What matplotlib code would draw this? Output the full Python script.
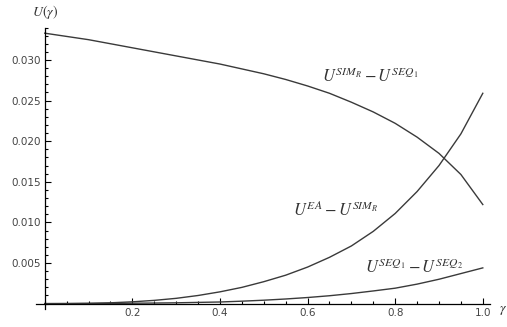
import numpy as np
import matplotlib.pyplot as plt
from matplotlib.ticker import FixedLocator, MultipleLocator

# values
gamma = [0.0, 0.05, 0.1, 0.15, 0.2, 0.25, 0.3, 0.35, 0.4, 0.45, 0.5,
         0.55, 0.6, 0.65, 0.7, 0.75, 0.8, 0.85, 0.9, 0.95, 1.0]
sim_minus_seq1 = [0.0333, 0.0329, 0.0325, 0.0320, 0.0315, 0.0310, 0.0305,
                  0.0300, 0.0295, 0.0289, 0.0283, 0.0276, 0.0268, 0.0259,
                  0.0248, 0.0236, 0.0222, 0.0205, 0.0185, 0.0159, 0.0122]
ea_minus_sim = [0.0, 0.00001, 0.00004, 0.0001, 0.00022, 0.0004, 0.00065,
                0.0010, 0.00145, 0.0020, 0.0027, 0.0035, 0.0045, 0.0057,
                0.0071, 0.0089, 0.0111, 0.0138, 0.0170, 0.0209, 0.0259]
seq1_minus_seq2 = [0.0, 0.0, 0.00001, 0.00003, 0.00005, 0.00007, 0.0001,
                   0.00015, 0.0002, 0.0003, 0.00042, 0.00057, 0.00075, 0.00097,
                   0.00124, 0.00156, 0.0019, 0.0024, 0.0030, 0.0037, 0.0044]

x_ticks = [0.2, 0.4, 0.6, 0.8, 1.0]
x_tick_labels = ["0.2", "0.4", "0.6", "0.8", "1.0"]
y_ticks = [0.005, 0.010, 0.015, 0.020, 0.025, 0.030]
y_tick_labels = ["0.005", "0.010", "0.015", "0.020", "0.025", "0.030"]

plt.rcParams["mathtext.fontset"] = "stix"

fig = plt.figure(figsize=(5.07, 3.27), dpi=100)
x0, x1 = -0.02, 1.016
y0, y1 = -0.0007, 0.034
ax = fig.add_axes([36 / 507, (327 - 309.3) / 327, 453.8 / 507, 281.8 / 327])
ax.set_xlim(x0, x1)
ax.set_ylim(y0, y1)

line_col = "#3a3a3a"
ax.plot(gamma, sim_minus_seq1, color=line_col, lw=1.0)
ax.plot(gamma, ea_minus_sim, color=line_col, lw=1.0)
ax.plot(gamma, seq1_minus_seq2, color=line_col, lw=1.0)

# Mathematica-like axes through the origin
for side in ["top", "right"]:
    ax.spines[side].set_visible(False)
ax.spines["left"].set_position(("data", 0))
ax.spines["bottom"].set_position(("data", 0))
ax.spines["left"].set_linewidth(0.9)
ax.spines["bottom"].set_linewidth(0.9)

ax.xaxis.set_major_locator(FixedLocator(x_ticks))
ax.set_xticklabels(x_tick_labels)
ax.xaxis.set_minor_locator(MultipleLocator(0.05))
ax.yaxis.set_major_locator(FixedLocator(y_ticks))
ax.set_yticklabels(y_tick_labels)
ax.yaxis.set_minor_locator(MultipleLocator(0.001))

ax.tick_params(which="both", direction="in", colors="black", width=0.8,
               labelcolor="#444444", labelsize=7.5)
ax.tick_params(which="major", length=4.5, pad=3)
ax.tick_params(which="minor", length=2.5)

# curve labels
lab_kw = dict(fontsize=12, color="#333333", ha="center", va="center")
ax.text(0.742, 0.0280, r"$U^{SIM_R} - U^{SEQ_1}$", **lab_kw)
ax.text(0.664, 0.0115, r"$U^{EA} - U^{SIM_R}$", **lab_kw)
ax.text(0.842, 0.0044, r"$U^{SEQ_1} - U^{SEQ_2}$", **lab_kw)

# axis names
ax.text(0.0, 0.0359, r"$U(\gamma)$", fontsize=10, color="#333333",
        ha="center", va="center", clip_on=False)
ax.text(1.046, -0.0008, r"$\gamma$", fontsize=10, color="#333333",
        ha="center", va="center", clip_on=False)

fig.savefig("out.png", dpi=100)
